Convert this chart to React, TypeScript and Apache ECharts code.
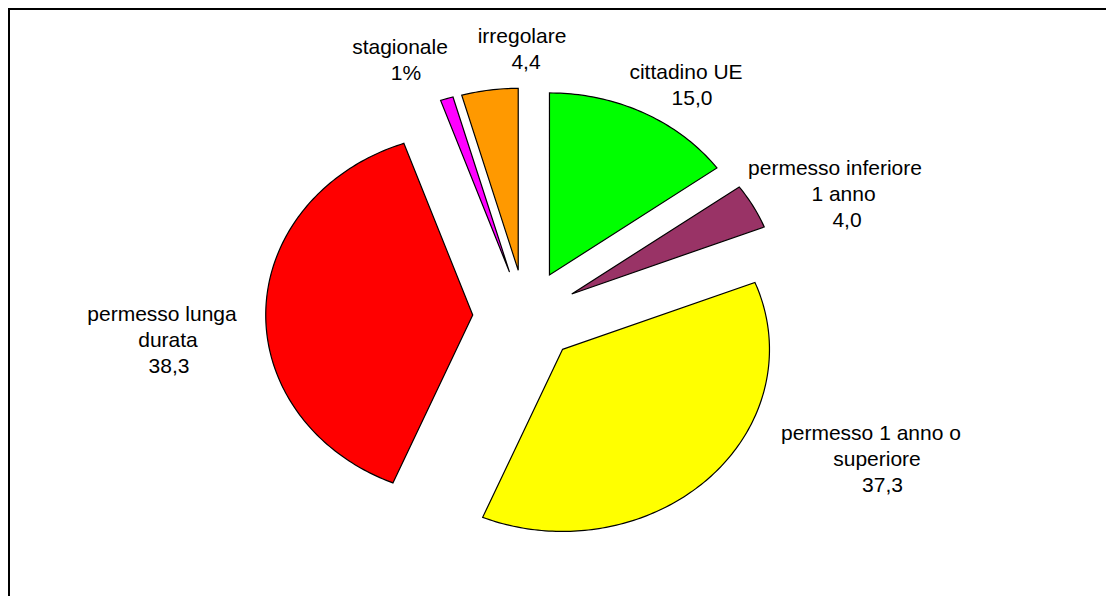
import React, { useEffect, useRef } from "react";
import * as echarts from "echarts";

// ---- data ----
const categories = [
  "cittadino UE",
  "permesso inferiore 1 anno",
  "permesso 1 anno o superiore",
  "permesso lunga durata",
  "stagionale",
  "irregolare",
];
const values = [15.0, 4.0, 37.3, 38.3, 1.0, 4.4];
const valueLabels = ["15,0", "4,0", "37,3", "38,3", "1%", "4,4"];
const labelNameLines = [
  ["cittadino UE"],
  ["permesso inferiore", "1 anno"],
  ["permesso 1 anno o", "superiore"],
  ["permesso lunga", "durata"],
  ["stagionale"],
  ["irregolare"],
];
const colors = ["#00FF00", "#993366", "#FFFF00", "#FF0000", "#FF00FF", "#FF9900"];

// ---- layout ----
const CX = 525.5;
const CY = 316.3;
const RX = 207;
const RY = 182;
const EXPLODE = 0.255;
const LINE_H = 26;
const FONT_SIZE = 21;
const FONT_FAMILY = '"Liberation Sans", Arial, Helvetica, sans-serif';
// x: centre of value line, y: centre of first line, dx: shift of name lines
const labelLayout = [
  { x: 692, y: 71, dx: [-6] },
  { x: 847, y: 167, dx: [-12, -3.5] },
  { x: 882.5, y: 432, dx: [-11.5, -5.5] },
  { x: 169, y: 313, dx: [-7, -1] },
  { x: 406, y: 46, dx: [-6] },
  { x: 526, y: 35, dx: [-4] },
];

export default function App() {
  const ref = useRef<HTMLDivElement>(null);

  useEffect(() => {
    if (!ref.current) return;
    const chart = echarts.init(ref.current, undefined, { renderer: "svg" });

    const total = values.reduce((a, b) => a + b, 0);
    const starts: number[] = [];
    let acc = 0;
    values.forEach((v) => {
      starts.push(acc);
      acc += v;
    });

    const renderItem = (params: any, api: any) => {
      const i = params.dataIndex;
      const v = api.value(0);
      const a0 = (starts[i] / total) * 360;
      const a1 = ((starts[i] + v) / total) * 360;
      const mid = ((a0 + a1) / 2) * (Math.PI / 180);
      const ox = CX + EXPLODE * RX * Math.sin(mid);
      const oy = CY - EXPLODE * RY * Math.cos(mid);
      const pts: number[][] = [[ox, oy]];
      const steps = Math.max(4, Math.ceil((a1 - a0) / 1));
      for (let s = 0; s <= steps; s++) {
        const t = ((a0 + ((a1 - a0) * s) / steps) * Math.PI) / 180;
        pts.push([ox + RX * Math.sin(t), oy - RY * Math.cos(t)]);
      }
      const lay = labelLayout[i];
      const lines = labelNameLines[i];
      const texts: any[] = lines.map((l, k) => ({
        type: "text",
        style: {
          text: l,
          x: lay.x + (lay.dx[k] || 0),
          y: lay.y + k * LINE_H,
          fill: "#000",
          fontSize: FONT_SIZE,
          fontFamily: FONT_FAMILY,
          align: "center",
          verticalAlign: "middle",
        },
      }));
      texts.push({
        type: "text",
        style: {
          text: valueLabels[i],
          x: lay.x,
          y: lay.y + lines.length * LINE_H,
          fill: "#000",
          fontSize: FONT_SIZE,
          fontFamily: FONT_FAMILY,
          align: "center",
          verticalAlign: "middle",
        },
      });
      return {
        type: "group",
        children: [
          {
            type: "polygon",
            shape: { points: pts },
            style: { fill: colors[i], stroke: "#000", lineWidth: 1.2 },
          },
          ...texts,
        ],
      };
    };

    chart.setOption({
      animation: false,
      backgroundColor: "#ffffff",
      graphic: [
        {
          type: "rect",
          shape: { x: 9, y: 9, width: 1200, height: 700 },
          style: { fill: "none", stroke: "#000", lineWidth: 2 },
          silent: true,
        },
      ],
      series: [
        {
          type: "custom",
          coordinateSystem: "none",
          silent: true,
          renderItem,
          data: values.map((v, i) => ({ name: categories[i], value: v })),
        },
      ],
    });

    return () => chart.dispose();
  }, []);

  return (
    <div
      ref={ref}
      style={{ position: "fixed", left: 0, top: 0, width: 1106, height: 596 }}
    />
  );
}
